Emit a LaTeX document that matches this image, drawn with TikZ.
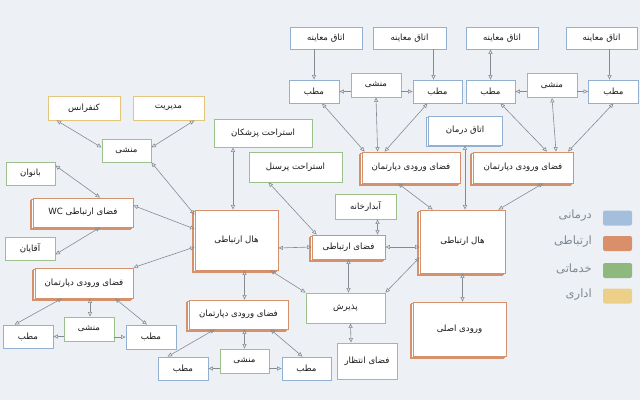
\documentclass[tikz,border=0pt]{standalone}
\usepackage{fontspec}
\usetikzlibrary{arrows.meta,shadows,calc}
\newfontfamily\fa[Script=Arabic]{DejaVu Sans}
\TeXXeTstate=1
\definecolor{bg}{HTML}{EDF1F6}
\definecolor{cblue}{HTML}{92B1D2}
\definecolor{cgreen}{HTML}{9CC08C}
\definecolor{cyellow}{HTML}{E3C67C}
\definecolor{corange}{HTML}{D4916B}
\definecolor{cline}{HTML}{868B93}
\definecolor{lblue}{HTML}{A4BFDC}
\definecolor{lorange}{HTML}{D9906A}
\definecolor{lgreen}{HTML}{8FB87E}
\definecolor{lyellow}{HTML}{ECD08A}
\definecolor{ltext}{HTML}{7F8790}
\tikzset{
  box/.style={draw, fill=white, line width=0.8pt, inner sep=1pt,
    font=\fa\fontsize{8.6}{10}\selectfont, text=black!90},
  blu/.style={box, draw=cblue},
  grn/.style={box, draw=cgreen},
  yel/.style={box, draw=cyellow},
  org/.style={box, draw=corange,
    copy shadow={shadow xshift=-3pt, shadow yshift=-2.5pt, draw=corange, fill=white, line width=0.7pt},
    copy shadow={shadow xshift=-1.5pt, shadow yshift=-1.2pt, draw=corange, fill=white, line width=0.7pt}},
  bluo/.style={box, draw=cblue,
    copy shadow={shadow xshift=-1.5pt, shadow yshift=-1.2pt, draw=cblue, fill=white, line width=0.7pt}},
  con/.style={draw=cline, line width=0.6pt, {Triangle[open,length=4.5pt,width=4pt]}-{Triangle[open,length=4.5pt,width=4pt]}},
  one/.style={draw=cline, line width=0.6pt, -{Triangle[open,length=4.5pt,width=4pt]}},
  legbox/.style={fill=#1, draw=none, rounded corners=2pt, minimum width=29pt, minimum height=15pt, inner sep=0pt},
  legtxt/.style={font=\fa\fontsize{11.5}{12}\selectfont, text=ltext, anchor=east, inner sep=0pt},
}
\begin{document}
\begin{tikzpicture}[x=1pt,y=-1pt]
\fill[bg] (0,0) rectangle (640,400);
\useasboundingbox (0,0) rectangle (640,400);

% ---- right cluster
\node[blu, minimum width=72pt, minimum height=22pt] (om1) at (326,38) {\beginR اتاق معاینه\endR};
\node[blu, minimum width=73pt, minimum height=22pt] (om2) at (409.5,38) {\beginR اتاق معاینه\endR};
\node[blu, minimum width=72pt, minimum height=22pt] (om3) at (502,38) {\beginR اتاق معاینه\endR};
\node[blu, minimum width=71pt, minimum height=22pt] (om4) at (601.5,38) {\beginR اتاق معاینه\endR};
\node[blu, minimum width=50pt, minimum height=23pt] (m1) at (314,91.5) {\beginR مطب\endR};
\node[grn, minimum width=50pt, minimum height=24pt] (s1) at (376,85) {\beginR منشی\endR};
\node[blu, minimum width=49pt, minimum height=23pt] (m2) at (437.5,91.5) {\beginR مطب\endR};
\node[blu, minimum width=49pt, minimum height=23pt] (m3) at (490.5,91.5) {\beginR مطب\endR};
\node[grn, minimum width=50pt, minimum height=24pt] (s2) at (552,85.5) {\beginR منشی\endR};
\node[blu, minimum width=50pt, minimum height=23pt] (m4) at (613.5,91.5) {\beginR مطب\endR};
\node[bluo, minimum width=74pt, minimum height=29pt] (td) at (465,130.5) {\beginR اتاق درمان\endR};
\node[org, minimum width=98pt, minimum height=31pt] (fe1) at (411,167.5) {\beginR فضای ورودی دپارتمان\endR};
\node[org, minimum width=100pt, minimum height=31pt] (fe2) at (523,167.5) {\beginR فضای ورودی دپارتمان\endR};
\node[org, minimum width=85pt, minimum height=63pt] (hr) at (462.5,241.5) {\beginR هال ارتباطی\endR};
\node[org, minimum width=93pt, minimum height=54pt] (vo) at (459.5,329) {\beginR ورودی اصلی\endR};

% ---- centre
\node[grn, minimum width=98pt, minimum height=28pt] (rp) at (263,133) {\beginR استراحت پزشکان\endR};
\node[grn, minimum width=93pt, minimum height=30pt] (rs) at (295.5,167) {\beginR استراحت پرسنل\endR};
\node[grn, minimum width=61pt, minimum height=25pt] (ab) at (365.5,206.5) {\beginR آبدارخانه\endR};
\node[org, minimum width=73pt, minimum height=24pt] (fc) at (348.5,247) {\beginR فضای ارتباطی\endR};
\node[org, minimum width=83pt, minimum height=60pt] (hl) at (236.5,240) {\beginR هال ارتباطی\endR};
\node[grn, minimum width=79pt, minimum height=30pt] (pz) at (345.5,308) {\beginR پذیرش\endR};
\node[grn, minimum width=60pt, minimum height=36pt] (wt) at (367,361) {\beginR فضای انتظار\endR};
\node[org, minimum width=99pt, minimum height=29pt] (feB) at (238.5,314.5) {\beginR فضای ورودی دپارتمان\endR};
\node[blu, minimum width=50pt, minimum height=23pt] (mB1) at (183,368.5) {\beginR مطب\endR};
\node[grn, minimum width=49pt, minimum height=24pt] (sB) at (244.5,361) {\beginR منشی\endR};
\node[blu, minimum width=49pt, minimum height=23pt] (mB2) at (306.5,368.5) {\beginR مطب\endR};

% ---- left
\node[yel, minimum width=72pt, minimum height=24pt] (conf) at (84,108) {\beginR کنفرانس\endR};
\node[yel, minimum width=71pt, minimum height=24pt] (mgmt) at (168.5,108) {\beginR مدیریت\endR};
\node[grn, minimum width=49pt, minimum height=23pt] (sL) at (126.5,150.5) {\beginR منشی\endR};
\node[grn, minimum width=49pt, minimum height=23pt] (ban) at (30.5,173.5) {\beginR بانوان\endR};
\node[org, minimum width=100pt, minimum height=29pt] (wc) at (83,212.5) {\beginR فضای ارتباطی \beginL WC\endL\endR};
\node[grn, minimum width=50pt, minimum height=23pt] (aqa) at (30,248.5) {\beginR آقایان\endR};
\node[org, minimum width=98pt, minimum height=30pt] (feL) at (84,283) {\beginR فضای ورودی دپارتمان\endR};
\node[blu, minimum width=50pt, minimum height=23pt] (mL1) at (28,336.5) {\beginR مطب\endR};
\node[grn, minimum width=50pt, minimum height=24pt] (sL2) at (89,329) {\beginR منشی\endR};
\node[blu, minimum width=50pt, minimum height=24pt] (mL2) at (151,337) {\beginR مطب\endR};

% ---- legend
\node[legbox=lblue] (k1) at (617.5,218) {};
\node[legbox=lorange] (k2) at (617.5,243.5) {};
\node[legbox=lgreen] (k3) at (617.5,270.5) {};
\node[legbox=lyellow] (k4) at (617.5,296) {};
\node[legtxt] (t1) at (592,216) {\beginR درمانی\endR};
\node[legtxt] (t2) at (592,242) {\beginR ارتباطی\endR};
\node[legtxt] (t3) at (592,269) {\beginR خدماتی\endR};
\node[legtxt] (t4) at (592,295) {\beginR اداری\endR};

% ---- connectors right
\draw[one] (om1.south -| m1.north) -- (m1.north);
\draw[one] ($(om2.south -| m2.north)+(-4,0)$) -- ($(m2.north)+(-4,0)$);
\draw[con] (om3.south -| m3.north) -- (m3.north);
\draw[one] ($(om4.south -| m4.north)+(-4,0)$) -- ($(m4.north)+(-4,0)$);
\draw[one] (s1.west |- m1.east) -- (m1.east);
\draw[one] (s1.east |- m2.west) -- (m2.west);
\draw[one] (s2.west |- m3.east) -- (m3.east);
\draw[one] (s2.east |- m4.west) -- (m4.west);
\draw[con] ($(m1.south)+(8,0)$) -- ($(fe1.north west)+(3,0)$);
\draw[con] (s1.south) -- ($(fe1.north west)+(16,0)$);
\draw[con] ($(m2.south)+(-10,0)$) -- ($(fe1.north west)+(23,0)$);
\draw[con] ($(m3.south)+(10,0)$) -- ($(fe2.north)+(24,0)$);
\draw[con] (s2.south) -- ($(fe2.north)+(33,0)$);
\draw[con] (m4.south) -- ($(fe2.north)+(45,0)$);
\draw[con] ($(fe1.south)+(-13,0)$) -- ($(hr.north west)+(13,0)$);
\draw[con] ($(fe2.south)+(20,0)$) -- ($(hr.north east)+(-7,0)$);
\draw[con] (td.south) -- (td.south |- hr.north);
\draw[con] (hr.south) -- (hr.south |- vo.north);

% ---- connectors centre
\draw[con] (fc.east) -- (fc.east -| hr.west);
\draw[con] (pz.north east) -- ($(hr.west)+(0,16)$);
\draw[con] ($(ab.south)+(12,0)$) -- ($(fc.north)+(29,0)$);
\draw[con] ($(hl.east)+(0,8)$) -- (fc.west);
\draw[con] ($(rs.south)+(-27,0)$) -- ($(fc.north west)+(5,0)$);
\draw[con] ($(rp.south)+(-30,0)$) -- ($(hl.north)+(-3.5,0)$);
\draw[con] ($(hl.south)+(8,0)$) -- ($(feB.north)+(6,0)$);
\draw[con] ($(hl.south east)+(-8,0)$) -- (pz.north west);
\draw[con] (fc.south) -- (fc.south |- pz.north);
\draw[con] ($(pz.south)+(5,0)$) -- ($(wt.north)+(-16,0)$);
\draw[con] ($(feB.south west)+(26,0)$) -- ($(mB1.north west)+(10,0)$);
\draw[con] ($(feB.south)+(6,0)$) -- (sB.north);
\draw[con] ($(feB.south east)+(-18,0)$) -- ($(mB2.north)+(-4,0)$);
\draw[one] (sB.west |- mB1.east) -- (mB1.east);
\draw[one] (sB.east |- mB2.west) -- (mB2.west);

% ---- connectors left
\draw[con] ($(conf.south west)+(9,0)$) -- ($(sL.west)+(0,-3)$);
\draw[con] ($(mgmt.south east)+(-10,0)$) -- ($(sL.east)+(0,-3)$);
\draw[con] (sL.south east) -- ($(hl.north west)+(0,5)$);
\draw[con] ($(ban.east)+(0,-8)$) -- ($(wc.north)+(17,0)$);
\draw[con] ($(wc.east)+(0,-7)$) -- ($(hl.west)+(0,-11)$);
\draw[con] ($(aqa.east)+(0,6)$) -- ($(wc.south)+(17,0)$);
\draw[con] ($(hl.west)+(0,7)$) -- (feL.north east);
\draw[con] ($(feL.south)+(-22,0)$) -- ($(mL1.north west)+(12,0)$);
\draw[con] ($(feL.south)+(6,0)$) -- ($(sL2.north)+(1,0)$);
\draw[con] ($(feL.south)+(31,0)$) -- ($(mL2.north)+(-4,0)$);
\draw[one] (sL2.west |- mL1.east) -- (mL1.east);
\draw[one] (sL2.east |- mL2.west) -- (mL2.west);
\end{tikzpicture}
\end{document}
